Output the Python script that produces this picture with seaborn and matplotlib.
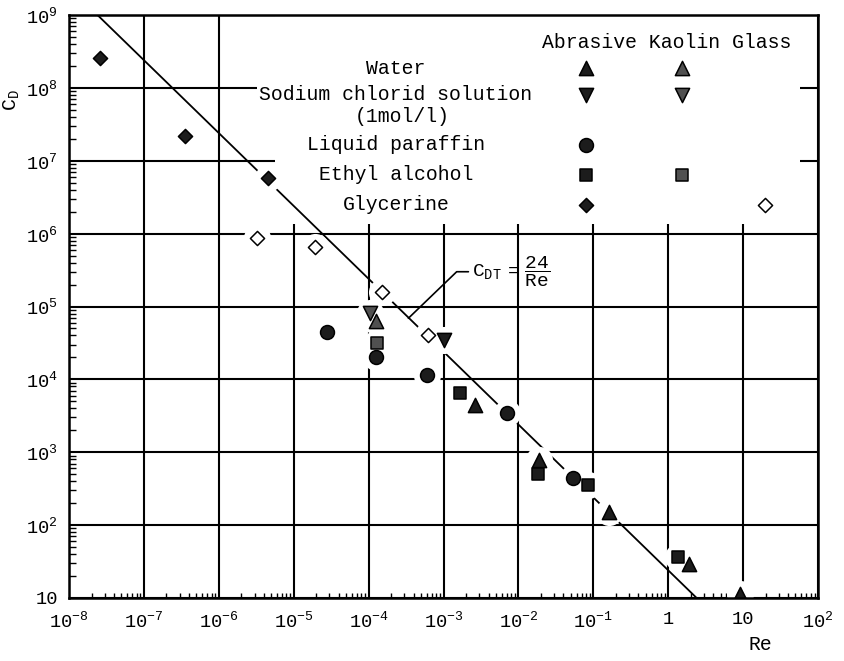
import numpy as np
import pandas as pd
import matplotlib
matplotlib.use("Agg")
import matplotlib.pyplot as plt
from matplotlib.ticker import LogLocator
import seaborn as sns

# drag coefficient vs Reynolds number
water_abr_re = [2.65e-3, 1.86e-2, 0.16, 1.9, 9.2]
water_abr_cd = [4.5e3, 7.9e2, 1.5e2, 29, 11.5]
nacl_abr_re = [1.0e-3]
nacl_abr_cd = [3.5e4]
paraffin_abr_re = [2.8e-5, 1.26e-4, 6.0e-4, 7.1e-3, 5.4e-2]
paraffin_abr_cd = [4.4e4, 2.0e4, 1.15e4, 3.5e3, 4.5e2]
ethyl_abr_re = [1.65e-3, 1.8e-2, 8.5e-2, 1.37]
ethyl_abr_cd = [6.5e3, 5.0e2, 3.5e2, 37]
glyc_abr_re = [2.6e-8, 3.55e-7, 4.6e-6]
glyc_abr_cd = [2.6e8, 2.2e7, 5.8e6]
water_kao_re = [1.26e-4]
water_kao_cd = [6.3e4]
nacl_kao_re = [1.05e-4]
nacl_kao_cd = [8.1e4]
ethyl_kao_re = [1.3e-4]
ethyl_kao_cd = [3.2e4]
glyc_gla_re = [3.2e-6, 1.95e-5, 1.5e-4, 6.3e-4]
glyc_gla_cd = [8.7e5, 6.6e5, 1.6e5, 4.1e4]

# theoretical line C_DT = 24/Re, end points
line_re = [2.4e-8, 2.4]
line_cd = [1e9, 10]

fluids = ["Water", "Sodium chlorid solution", "Liquid paraffin", "Ethyl alcohol", "Glycerine"]
materials = ["Abrasive", "Kaolin", "Glass"]

xticks = [1e-8, 1e-7, 1e-6, 1e-5, 1e-4, 1e-3, 1e-2, 1e-1, 1, 10, 1e2]
xlabels = ["$10^{-8}$", "$10^{-7}$", "$10^{-6}$", "$10^{-5}$", "$10^{-4}$",
           "$10^{-3}$", "$10^{-2}$", "$10^{-1}$", "1", "10", "$10^{2}$"]
yticks = [10, 1e2, 1e3, 1e4, 1e5, 1e6, 1e7, 1e8, 1e9]
ylabels = ["10", "$10^{2}$", "$10^{3}$", "$10^{4}$", "$10^{5}$",
           "$10^{6}$", "$10^{7}$", "$10^{8}$", "$10^{9}$"]

series = [
    ("Water", "Abrasive", water_abr_re, water_abr_cd),
    ("Sodium chlorid solution", "Abrasive", nacl_abr_re, nacl_abr_cd),
    ("Liquid paraffin", "Abrasive", paraffin_abr_re, paraffin_abr_cd),
    ("Ethyl alcohol", "Abrasive", ethyl_abr_re, ethyl_abr_cd),
    ("Glycerine", "Abrasive", glyc_abr_re, glyc_abr_cd),
    ("Water", "Kaolin", water_kao_re, water_kao_cd),
    ("Sodium chlorid solution", "Kaolin", nacl_kao_re, nacl_kao_cd),
    ("Ethyl alcohol", "Kaolin", ethyl_kao_re, ethyl_kao_cd),
    ("Glycerine", "Glass", glyc_gla_re, glyc_gla_cd),
]
df = pd.concat([pd.DataFrame({"Re": r, "Cd": c, "fluid": f, "material": m})
                for f, m, r, c in series], ignore_index=True)

markers = {"Water": "^", "Sodium chlorid solution": "v", "Liquid paraffin": "o",
           "Ethyl alcohol": "s", "Glycerine": "D"}
sizes = {"^": 105, "v": 105, "o": 100, "s": 64, "D": 52}
faces = {"Abrasive": "#1c1c1c", "Kaolin": "#505050", "Glass": "white"}

sns.set_theme(style="white")
plt.rcParams["font.family"] = ["Liberation Mono", "DejaVu Sans"]
plt.rcParams["mathtext.fontset"] = "custom"
plt.rcParams["mathtext.rm"] = "Liberation Mono"
plt.rcParams["mathtext.it"] = "Liberation Mono"
plt.rcParams["mathtext.bf"] = "Liberation Mono:bold"
plt.rcParams["text.color"] = "black"
plt.rcParams["axes.labelcolor"] = "black"
plt.rcParams["xtick.color"] = "black"
plt.rcParams["ytick.color"] = "black"

fig = plt.figure(figsize=(8.44, 6.61), dpi=100)
ax = fig.add_axes([69 / 844, 1 - 598 / 661, 749 / 844, 583 / 661])
ax.set_xscale("log")
ax.set_yscale("log")
ax.set_xlim(1e-8, 1e2)
ax.set_ylim(10, 1e9)


def fx(px):
    return (px - 69) / 749


def fy(py):
    return (598 - py) / 583


ax.set_axisbelow(True)
ax.grid(True, which="major", color="black", lw=1.5)
ax.grid(False, which="minor")

# white area behind the key
ax.add_patch(plt.Rectangle((fx(275), fy(224)), fx(800) - fx(275), 1 - fy(224),
                           transform=ax.transAxes, facecolor="white",
                           edgecolor="none", zorder=1))

ax.plot(line_re, line_cd, color="black", lw=1.3, zorder=2)

# white halos break the lines round the points, as in the print
sns.scatterplot(data=df, x="Re", y="Cd", marker="o", s=380, color="white",
                linewidth=0, zorder=3, ax=ax, legend=False)
for (f, m), sub in df.groupby(["fluid", "material"], sort=False):
    mk = markers[f]
    sns.scatterplot(data=sub, x="Re", y="Cd", marker=mk, s=sizes[mk],
                    color=faces[m], edgecolor="black", linewidth=1.1,
                    zorder=4, ax=ax, legend=False)

# leader and label of the 24/Re line
ax.plot([3.4e-4, 1.5e-3, 2.15e-3], [6.9e4, 3.0e5, 3.0e5], color="black",
        lw=1.2, zorder=4)
ax.text(2.4e-3, 3.0e5, r"$\mathregular{C_{DT}\ =\ \dfrac{24}{Re}}$",
        fontsize=14, ha="left", va="center", zorder=4)

# key
fs = 14.2
ax.text(fx(667), fy(42), "Abrasive Kaolin Glass", transform=ax.transAxes,
        ha="center", va="center", fontsize=fs, zorder=4)
key_y = [68, 95, 145, 175, 205]
col_x = [586, 682, 765]
present = {"Water": ["Abrasive", "Kaolin"],
           "Sodium chlorid solution": ["Abrasive", "Kaolin"],
           "Liquid paraffin": ["Abrasive"],
           "Ethyl alcohol": ["Abrasive", "Kaolin"],
           "Glycerine": ["Abrasive", "Glass"]}
for f, yp in zip(fluids, key_y):
    t = ax.text(fx(396), fy(yp), f, transform=ax.transAxes, ha="center",
                va="center", fontsize=fs, zorder=4)
    if f.startswith("Sodium"):
        t.set_bbox(dict(facecolor="white", edgecolor="none", pad=2))
    mk = markers[f]
    for m in present[f]:
        ax.scatter(fx(col_x[materials.index(m)]), fy(yp), marker=mk,
                   s=sizes[mk], color=faces[m], edgecolor="black",
                   linewidth=1.1, transform=ax.transAxes, zorder=4)
ax.text(fx(402), fy(116), "(1mol/l)", transform=ax.transAxes, ha="center",
        va="center", fontsize=fs, zorder=4)

ax.set_xticks(xticks, xlabels)
ax.set_yticks(yticks, ylabels)
ax.xaxis.set_minor_locator(LogLocator(base=10, subs=np.arange(2, 10), numticks=100))
ax.yaxis.set_minor_locator(LogLocator(base=10, subs=np.arange(2, 10), numticks=100))
ax.tick_params(which="major", length=0, labelsize=13.5)
ax.tick_params(axis="x", which="major", pad=9)
ax.tick_params(axis="y", which="major", pad=8)
ax.tick_params(axis="y", which="minor", direction="in", length=5, width=1,
               left=True, right=False)
ax.tick_params(axis="x", which="minor", direction="in", length=3.5, width=1,
               bottom=True, top=False)

ax.set_xlabel("Re", fontsize=fs)
ax.xaxis.set_label_coords(fx(760), fy(635))
ax.set_ylabel(r"$\mathregular{C_D}$", fontsize=fs)
ax.yaxis.set_label_coords(fx(22), fy(100))

for sp in ax.spines.values():
    sp.set_color("black")
    sp.set_linewidth(1.8)
    sp.set_zorder(5)

fig.savefig("out.png", dpi=100)
